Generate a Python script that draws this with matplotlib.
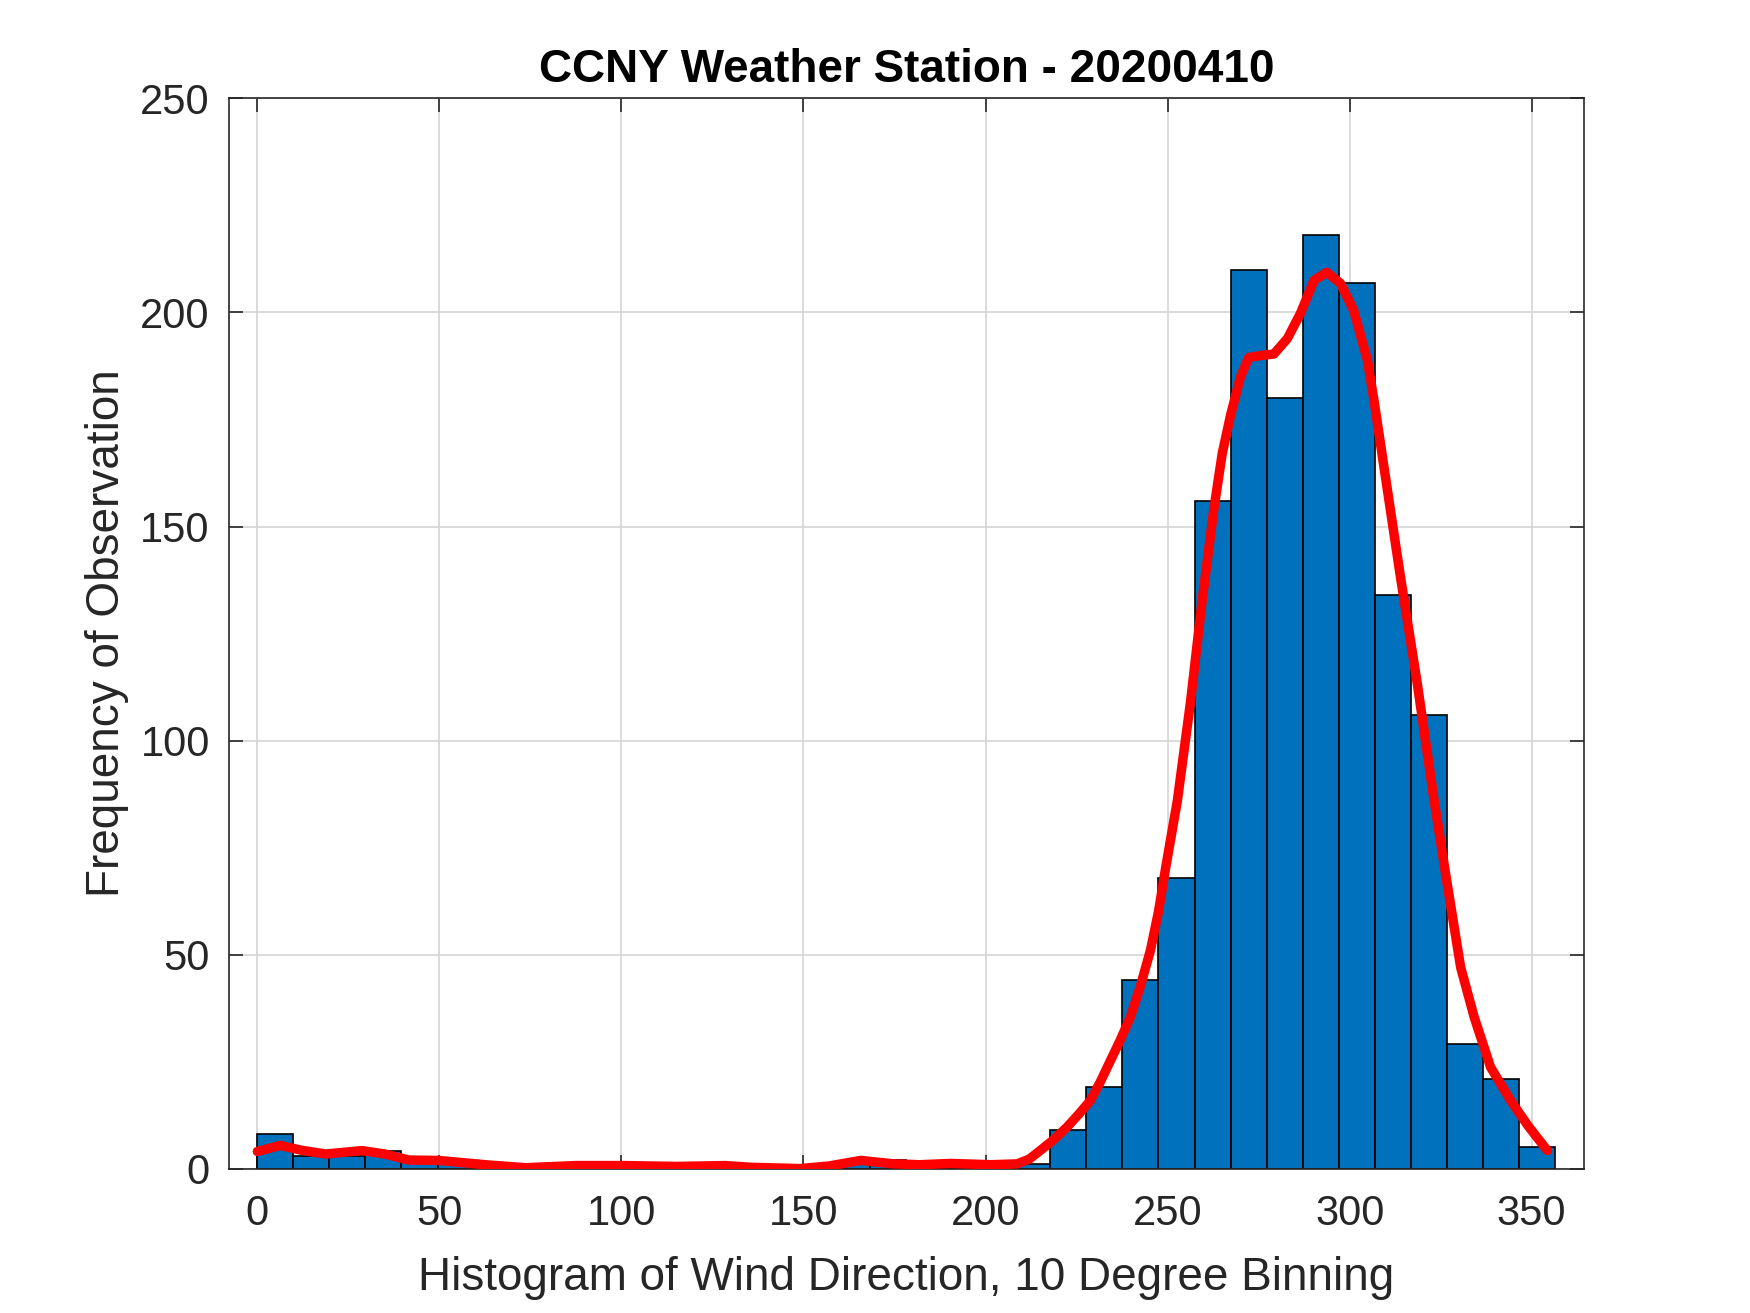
import numpy as np
import matplotlib
matplotlib.use("Agg")
import matplotlib.pyplot as plt

plt.rcParams['font.family'] = ['Liberation Sans', 'DejaVu Sans']

# 36 bins between 0 and ~356 degrees
bin_lo = 0.0
bin_hi = 356.4
counts = [8, 3, 3, 4, 2, 2, 1, 0, 0, 1, 1, 1, 0, 1, 0, 0, 1, 2,
          1, 1, 1, 1, 9, 19, 44, 68, 156, 210, 180, 218, 207, 134, 106, 29, 21, 5]

# smoothed curve
curve_x = [0, 6.3, 12, 18.7, 28.8, 35, 41.6, 49.8, 62.6, 73.6, 87.4, 101, 114.8, 128.6,
           135.4, 149.2, 157, 165.7, 174.8, 182, 190.4, 201.4, 208.7, 212, 215, 218.5, 222.4,
           225.5, 228.8, 231.5, 234.3, 237, 239.8, 242.5, 245.3, 247.5, 249.5, 252.7, 256.3,
           259.5, 262.7, 265, 267.3, 270, 272.3, 276, 279.2, 282.9, 286.5, 290.2, 293.7,
           297.5, 301.1, 304.9, 306.7, 310.4, 314, 318.6, 323.2, 326.8, 330.5, 334.2, 338.7,
           344.2, 349, 354.3]
curve_y = [4.0, 5.4, 4.3, 3.4, 4.2, 3.4, 2.0, 1.9, 0.9, 0.2, 0.7, 0.7, 0.5, 0.7,
           0.3, 0.0, 0.6, 1.9, 1.1, 0.9, 1.2, 0.9, 1.1, 2.2, 4.2, 6.6, 9.7,
           12.6, 15.9, 20.2, 25.2, 30.0, 35.4, 42.5, 51, 60, 70.4, 86, 109,
           132.7, 154, 167, 176, 184.9, 189.5, 190, 190.3, 193.9, 199.8, 207.5, 209.4,
           206.8, 200.5, 188.8, 179.4, 158.4, 138, 113.2, 86, 66.5, 47, 35.4, 23.7,
           15.9, 10, 4.2]

edges = np.linspace(bin_lo, bin_hi, len(counts) + 1)

fig = plt.figure(figsize=(8.75, 6.565), dpi=200)
ax = fig.add_axes([0.131, 0.110, 0.774, 0.815])

ax.bar(edges[:-1], counts, width=np.diff(edges), align='edge',
       color='#0072BD', edgecolor='black', linewidth=0.6, zorder=2)
ax.plot(curve_x, curve_y, color='red', linewidth=3.4, zorder=3,
        solid_joinstyle='round', solid_capstyle='round')

ax.set_xlim(-7.7, 364.3)
ax.set_ylim(0, 250)
ax.set_xticks(range(0, 351, 50))
ax.set_yticks(range(0, 251, 50))
ax.grid(True, color='#d4d4d4', linewidth=0.6, zorder=0)
ax.set_axisbelow(True)
ax.tick_params(direction='in', top=True, right=True, length=5, width=0.6,
               labelsize=15, colors='#262626')
ax.tick_params(axis='x', pad=9)
ax.tick_params(axis='y', pad=7)
for s in ax.spines.values():
    s.set_color('#262626')
    s.set_linewidth(0.6)

ax.set_xlabel('Histogram of Wind Direction, 10 Degree Binning', fontsize=16.5, color='#262626', labelpad=8)
ax.set_ylabel('Frequency of Observation', fontsize=16.5, color='#262626', labelpad=4)
ax.set_title('CCNY Weather Station - 20200410', fontsize=16.5, fontweight='bold', pad=6)

fig.savefig('out.png', dpi=200)
